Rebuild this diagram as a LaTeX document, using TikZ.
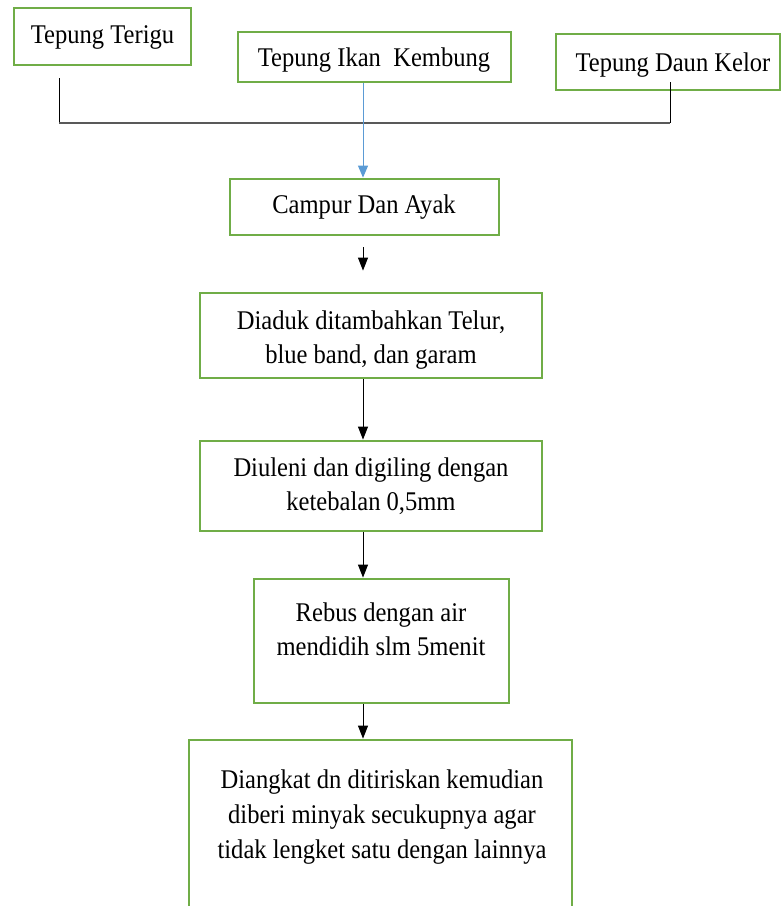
\documentclass[tikz,border=0pt]{standalone}
\usepackage{fontspec}
\setmainfont{Liberation Serif}[FakeStretch=0.91]
\usetikzlibrary{arrows.meta}
\definecolor{boxgreen}{HTML}{70AD47}
\definecolor{arrowblue}{HTML}{5B9BD5}
\begin{document}
\begin{tikzpicture}[x=1pt,y=-1pt,
  box/.style={draw=boxgreen,line width=2.8pt,inner sep=0pt,rectangle},
  txt/.style={anchor=north,inner sep=0pt,align=center,font=\fontsize{27}{34}\selectfont},
  flow/.style={line width=1pt,-{Triangle[length=13pt,width=10pt]}},
  bflow/.style={draw=arrowblue,line width=1pt,-{Triangle[length=12pt,width=10pt]}},
  hline/.style={line width=1.8pt,draw=black!65}]
\useasboundingbox (0,0) rectangle (782,906);
% boxes
\node[box,minimum width=177pt,minimum height=57pt] (terigu) at (102.5,36.5) {};
\node[box,minimum width=273pt,minimum height=50pt] (ikan) at (374.5,57) {};
\node[box,minimum width=224pt,minimum height=56pt] (kelor) at (668,62) {};
\node[box,minimum width=269pt,minimum height=56pt] (campur) at (364.5,207) {};
\node[box,minimum width=342pt,minimum height=85pt] (diaduk) at (371,335.5) {};
\node[box,minimum width=342pt,minimum height=90pt] (diuleni) at (371,486) {};
\node[box,minimum width=255pt,minimum height=124pt] (rebus) at (381.5,641) {};
\node[box,minimum width=383pt,minimum height=190pt] (diangkat) at (380.5,835) {};
% texts
\node[txt] (tterigu) at (102.5,19.2) {\strut Tepung Terigu};
\node[txt] (tikan) at (374,42.2) {\strut Tepung Ikan\ \ Kembung};
\node[txt] (tkelor) at (673,47.2) {\strut Tepung Daun Kelor};
\node[txt] (tcampur) at (364,189.2) {\strut Campur Dan Ayak};
\node[txt] (tdiaduk) at (371,305.2) {\strut Diaduk ditambahkan Telur,\\\strut blue band, dan garam};
\node[txt] (tdiuleni) at (371,452.2) {\strut Diuleni dan digiling dengan\\\strut ketebalan 0,5mm};
\node[txt] (trebus) at (381,597.2) {\strut Rebus dengan air\\\strut mendidih slm 5menit};
\node[txt,font=\fontsize{27}{35}\selectfont] (tdiangkat) at (382,764) {\strut Diangkat dn ditiriskan kemudian\\\strut diberi minyak secukupnya agar\\\strut tidak lengket satu dengan lainnya};
% joining lines
\coordinate (mx) at (363,0);
\coordinate (lt) at (59,78);
\coordinate (lb) at (59,123);
\coordinate (rt) at (670,82);
\coordinate (rb) at (670,123);
\draw[line width=1pt] (lt) -- (lb);
\draw[line width=1pt] (rt) -- (rb);
\draw[hline] (lb) -- (rb);
% arrows
\draw[bflow] (ikan.south -| mx) -- (campur.north -| mx);
\draw[flow,shorten <=11pt,shorten >=21pt] (campur.south -| mx) -- (diaduk.north -| mx);
\draw[flow] (diaduk.south -| mx) -- (diuleni.north -| mx);
\draw[flow] (diuleni.south -| mx) -- (rebus.north -| mx);
\draw[flow] (rebus.south -| mx) -- (diangkat.north -| mx);
\end{tikzpicture}
\end{document}
